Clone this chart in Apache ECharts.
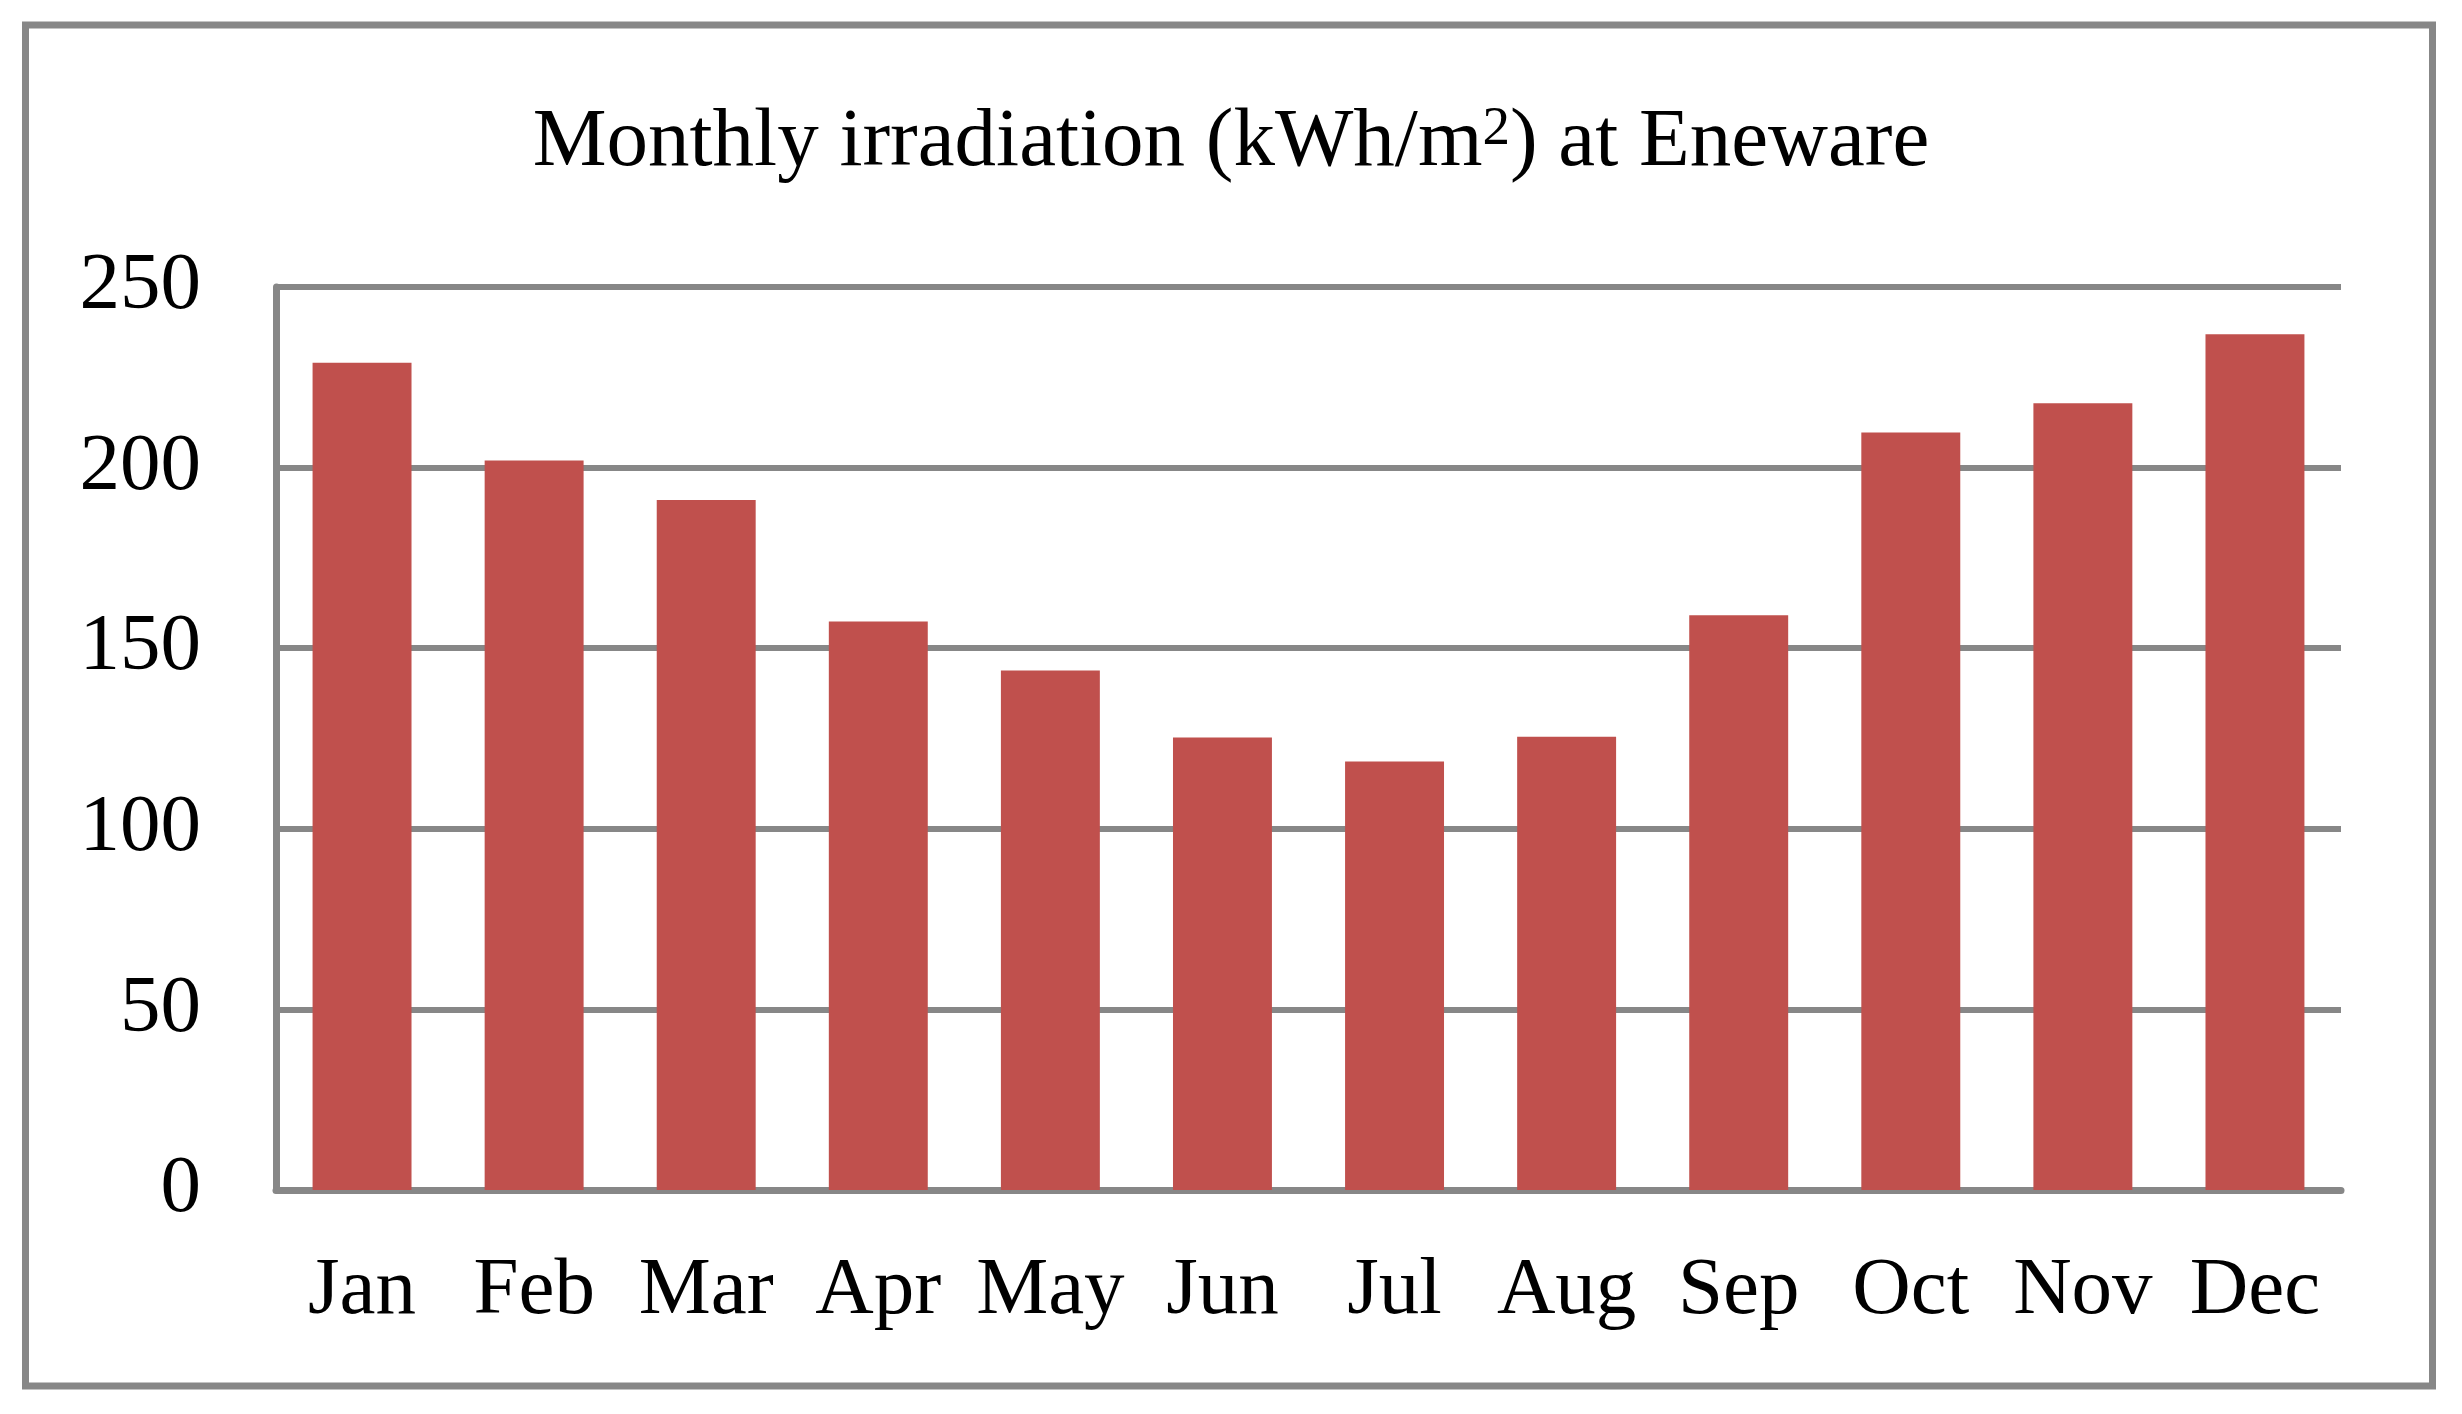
<!DOCTYPE html>
<html>
<head>
<meta charset="utf-8">
<style>
  html, body { margin: 0; padding: 0; background: #ffffff; }
  #chart { width: 2462px; height: 1414px; }
</style>
<script src="https://cdn.jsdelivr.net/npm/echarts@6/dist/echarts.min.js"></script>
</head>
<body>
<div id="chart"></div>
<script>
// Data
const months = ['Jan', 'Feb', 'Mar', 'Apr', 'May', 'Jun', 'Jul', 'Aug', 'Sep', 'Oct', 'Nov', 'Dec'];
const irradiation = [229, 202, 191, 157.4, 143.8, 125.3, 118.6, 125.5, 159.1, 209.7, 217.8, 236.9];
const yMin = 0;
const yMax = 250;
const yStep = 50;

const chart = echarts.init(document.getElementById('chart'), null, { renderer: 'canvas' });
const FONT = '"Liberation Serif", "Times New Roman", serif';
const GREY = '#878787';

chart.setOption({
  backgroundColor: '#ffffff',
  animation: false,
  title: {
    text: '{a|Monthly irradiation (kWh/m}{s|2}{a|) at Eneware}',
    left: 'center',
    top: 97,
    textStyle: {
      fontWeight: 'normal',
      rich: {
        a: { fontFamily: FONT, fontSize: 83, fontWeight: 'normal', lineHeight: 83, color: '#000000' },
        s: { fontFamily: FONT, fontSize: 55, fontWeight: 'normal', lineHeight: 40, color: '#000000', verticalAlign: 'top' }
      }
    }
  },
  graphic: [{
    type: 'rect',
    shape: { x: 25.5, y: 25, width: 2407, height: 1361 },
    style: { fill: 'none', stroke: GREY, lineWidth: 7 },
    silent: true,
    z: 100
  }],
  grid: { left: 276, right: 121, top: 287, bottom: 224, containLabel: false },
  xAxis: {
    type: 'category',
    data: months,
    axisLine: { show: true, lineStyle: { color: GREY, width: 7 } },
    axisTick: { show: false },
    axisLabel: {
      fontFamily: FONT, fontSize: 81, color: '#000000', margin: 61, interval: 0
    },
    splitLine: { show: false }
  },
  yAxis: {
    type: 'value',
    min: yMin,
    max: yMax,
    interval: yStep,
    axisLine: { show: true, lineStyle: { color: GREY, width: 7 } },
    axisTick: { show: false },
    axisLabel: { fontFamily: FONT, fontSize: 81, color: '#000000', margin: 75 },
    splitLine: { show: true, lineStyle: { color: GREY, width: 6 } }
  },
  series: [{
    type: 'bar',
    data: irradiation,
    barCategoryGap: '42.5%',
    itemStyle: { color: '#C0504D' }
  }]
});
</script>
</body>
</html>
